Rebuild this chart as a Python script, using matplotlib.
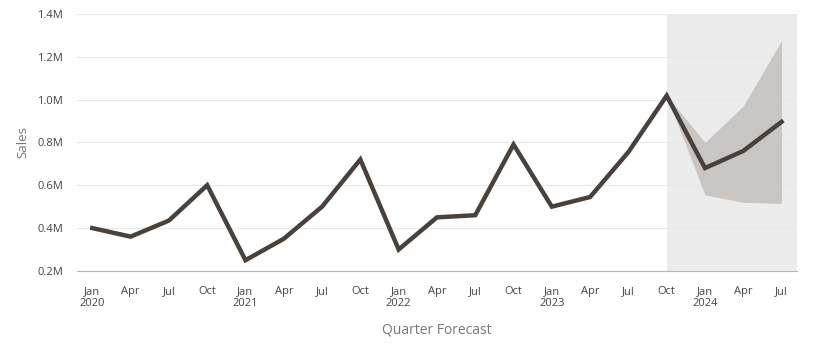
import numpy as np
import matplotlib
matplotlib.use('Agg')
import matplotlib.pyplot as plt

quarters = ['Jan\n2020', 'Apr', 'Jul', 'Oct',
            'Jan\n2021', 'Apr', 'Jul', 'Oct',
            'Jan\n2022', 'Apr', 'Jul', 'Oct',
            'Jan\n2023', 'Apr', 'Jul', 'Oct',
            'Jan\n2024', 'Apr', 'Jul']
sales = [0.40, 0.36, 0.435, 0.60,
         0.25, 0.35, 0.50, 0.72,
         0.30, 0.45, 0.46, 0.79,
         0.50, 0.545, 0.755, 1.018,
         0.68, 0.76, 0.896]
# forecast band starts at Oct 2023
band_start = 15
band_upper = [1.018, 0.80, 0.97, 1.275]
band_lower = [1.018, 0.555, 0.52, 0.515]

plt.rcParams['font.family'] = ['Open Sans', 'DejaVu Sans']

fig = plt.figure(figsize=(8.19, 3.46), dpi=100)
ax = fig.add_axes([0.094, 0.217, 0.879, 0.743])

x = np.arange(len(sales))
xb = x[band_start:]

ax.axvspan(band_start, len(sales) - 0.6, color='#ececec', zorder=0, lw=0)
ax.fill_between(xb, band_lower, band_upper, color='#c9c5c3', lw=0, zorder=1)
ax.plot(x, sales, color='#48413c', lw=3.2, solid_joinstyle='miter', zorder=3)

ax.set_xlim(-0.4, len(sales) - 0.6)
ax.set_ylim(0.2, 1.4)
ax.set_yticks([0.2, 0.4, 0.6, 0.8, 1.0, 1.2, 1.4])
ax.set_yticklabels([f'{v:.1f}M' for v in ax.get_yticks()])
ax.set_xticks(x)
ax.set_xticklabels(quarters, linespacing=1.05)

ax.grid(axis='y', color='#e8e8e8', lw=0.8, zorder=0)
ax.set_axisbelow(True)
for s in ['top', 'right', 'left']:
    ax.spines[s].set_visible(False)
ax.spines['bottom'].set_color('#b5b5b5')
ax.tick_params(axis='both', length=0, labelsize=8, colors='#444444')
ax.tick_params(axis='x', pad=11)
ax.tick_params(axis='y', pad=10)

ax.set_ylabel('Sales', fontsize=9.5, color='#777777', labelpad=6)
ax.set_xlabel('Quarter Forecast', fontsize=10, color='#777777', labelpad=10)

fig.savefig('out.png', dpi=100)
